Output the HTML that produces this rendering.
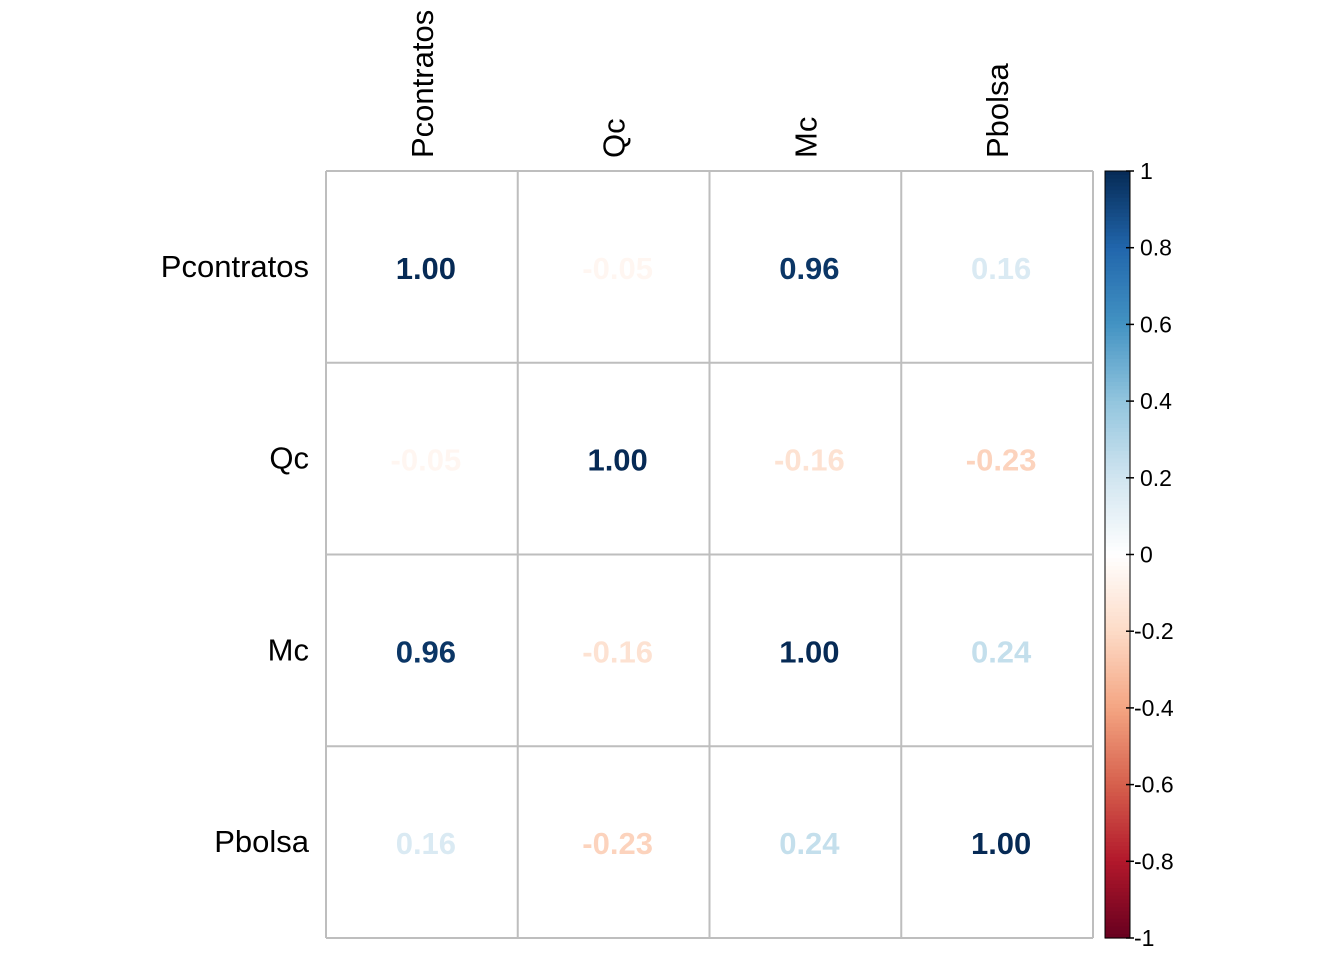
<!DOCTYPE html>
<html><head><meta charset="utf-8"><style>
body{margin:0;background:#fff}
svg text{font-family:"Liberation Sans",Arial,sans-serif}
</style></head><body>
<svg id="chart" width="1344" height="960"></svg>
<script>
const vars = ["Pcontratos","Qc","Mc","Pbolsa"];
const row0 = [1.00,-0.05,0.96,0.16];
const row1 = [-0.05,1.00,-0.16,-0.23];
const row2 = [0.96,-0.16,1.00,0.24];
const row3 = [0.16,-0.23,0.24,1.00];
const matrix = [row0,row1,row2,row3];
const legendTicks = [1,0.8,0.6,0.4,0.2,0,-0.2,-0.4,-0.6,-0.8,-1];
const legendLabels = ["1","0.8","0.6","0.4","0.2","0","-0.2","-0.4","-0.6","-0.8","-1"];

const pal = ["#67001F","#B2182B","#D6604D","#F4A582","#FDDBC7","#FFFFFF","#D1E5F0","#92C5DE","#4393C3","#2166AC","#062A55"];
function hex(h){return [1,3,5].map(i=>parseInt(h.substr(i,2),16));}
function color(v){
  const t=(Math.max(-1,Math.min(1,v))+1)/2*(pal.length-1);
  const i=Math.min(pal.length-2,Math.floor(t)),f=t-i;
  const a=hex(pal[i]),b=hex(pal[i+1]);
  return "rgb("+a.map((x,k)=>Math.round(x+(b[k]-x)*f)).join(",")+")";
}
const NS="http://www.w3.org/2000/svg";
const svg=document.getElementById("chart");
function mk(tag,attrs,parent){const e=document.createElementNS(NS,tag);for(const k in attrs)e.setAttribute(k,attrs[k]);(parent||svg).appendChild(e);return e;}
const x0=326,y0=171,cell=191.75,n=vars.length;
const cx=i=>x0+cell*i, cy=j=>y0+cell*j;
for(let i=0;i<=n;i++){
  const l1=mk("line",{x1:cx(i),y1:y0,x2:cx(i),y2:cy(n),stroke:"#bebebe","stroke-width":2});
  
  
  const l2=mk("line",{x1:x0,y1:cy(i),x2:cx(n),y2:cy(i),stroke:"#bebebe","stroke-width":2});
  
  
}
for(let r=0;r<n;r++)for(let c=0;c<n;c++){
  const v=matrix[r][c];
  const t=mk("text",{x:cx(c)+cell/2+4,y:cy(r)+cell/2+12,"text-anchor":"middle","font-size":31,"font-weight":"bold",fill:color(v)});
  t.textContent=v.toFixed(2);
  
  
}
for(let i=0;i<n;i++){
  const t=mk("text",{x:309,y:cy(i)+cell/2+10,"text-anchor":"end","font-size":31,fill:"#000"});
  t.textContent=vars[i];
  
  
  const tx=cx(i)+cell/2+11, ty=158;
  const t2=mk("text",{x:tx,y:ty,"text-anchor":"start","font-size":31,fill:"#000",transform:`rotate(-90 ${tx} ${ty})`});
  t2.textContent=vars[i];
  
  
}
const lx=1105,lw=25,ly0=171,ly1=938;
const ly=v=>ly0+(1-v)/2*(ly1-ly0);
const steps=200;
for(let s=0;s<steps;s++){
  const v1=1-2*s/steps;
  const rc=mk("rect",{x:lx,y:ly(v1),width:lw,height:(ly1-ly0)/steps+0.6,fill:color(v1-1/steps)});
  
  
}
const br=mk("rect",{x:lx,y:ly0,width:lw,height:ly1-ly0,fill:"none",stroke:"#000","stroke-width":1});


legendTicks.forEach((v,i)=>{
  const tk=mk("line",{x1:lx+lw-4,x2:lx+lw+4,y1:ly(v),y2:ly(v),stroke:"#000","stroke-width":1.5});
  
  
  const t=mk("text",{x:lx+lw+10+(v<0?-6:0),y:ly(v)+8,"font-size":23,fill:"#000"});
  t.textContent=legendLabels[i];
  
  
});
</script>
</body></html>
